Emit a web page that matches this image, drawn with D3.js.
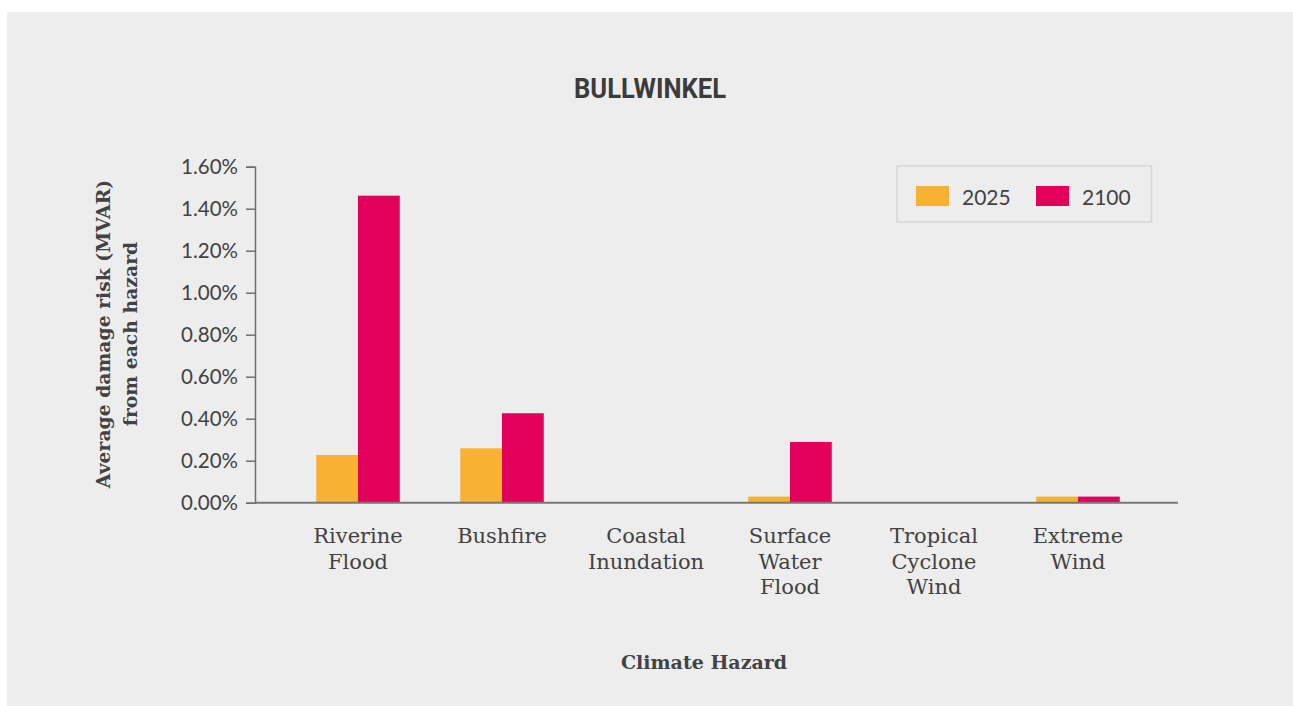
<!DOCTYPE html>
<html>
<head>
<meta charset="utf-8">
<script src="https://cdn.jsdelivr.net/npm/d3@7"></script>
<style>
  html, body { margin: 0; padding: 0; background: #ffffff; }
  svg { display: block; }
</style>
</head>
<body>
<svg id="chart" width="1293" height="706"></svg>
<script>
// ---- data ----
const categories = [
  ["Riverine", "Flood"],
  ["Bushfire"],
  ["Coastal", "Inundation"],
  ["Surface", "Water", "Flood"],
  ["Tropical", "Cyclone", "Wind"],
  ["Extreme", "Wind"]
];
const seriesNames = ["2025", "2100"];
const values2025 = [0.227, 0.259, 0, 0.029, 0, 0.029];
const values2100 = [1.462, 0.426, 0, 0.289, 0, 0.029];
const yTicks = [0, 0.2, 0.4, 0.6, 0.8, 1.0, 1.2, 1.4, 1.6];
const chartTitle = "BULLWINKEL";
const yTitleLines = ["Average damage risk (MVAR)", "from each hazard"];
const xTitle = "Climate Hazard";
const colors = ["#F8B133", "#E3005A"];

const svg = d3.select("#chart");
const W = 1293, H = 706;

// panel
svg.append("rect").attr("x", 7).attr("y", 12).attr("width", W - 7).attr("height", H - 12).attr("fill", "#ededed");

const catKeys = categories.map(c => c.join(" "));
const x = d3.scaleBand().domain(catKeys).range([286, 1150]).paddingInner(0.42).paddingOuter(0.21);
const xs = d3.scaleBand().domain(seriesNames).range([0, x.bandwidth()]);
const y = d3.scaleLinear().domain([0, 1.6]).range([502.7, 166.7]);

const axisLeft = 255, axisRight = 1178;
const textCol = "#424242";

// bars
const series = [values2025, values2100];
series.forEach((vals, si) => {
  svg.append("g").selectAll("rect").data(vals).join("rect")
    .attr("x", (d, i) => x(catKeys[i]) + xs(seriesNames[si]))
    .attr("width", xs.bandwidth())
    .attr("y", d => y(d))
    .attr("height", d => y(0) - y(d))
    .attr("fill", colors[si]);
});

// y axis
const yAxis = svg.append("g").attr("transform", `translate(${axisLeft},0)`)
  .call(d3.axisLeft(y).tickValues(yTicks).tickSize(9).tickPadding(8)
    .tickFormat(d => d3.format(".2f")(d) + "%"));
yAxis.select(".domain").attr("stroke", "#6e6e6e").attr("stroke-width", 1.5);
yAxis.selectAll(".tick line").attr("stroke", "#6e6e6e").attr("stroke-width", 1.5);
yAxis.selectAll(".tick text").attr("fill", textCol)
  .style("font-family", "Lato, 'Open Sans', sans-serif").style("font-size", "20.5px");

// x axis line
svg.append("line").attr("x1", axisLeft).attr("x2", axisRight)
  .attr("y1", y(0)).attr("y2", y(0)).attr("stroke", "#777").attr("stroke-width", 2);

// category labels
const catG = svg.append("g");
categories.forEach((lines, i) => {
  const t = catG.append("text")
    .attr("x", x(catKeys[i]) + x.bandwidth() / 2)
    .attr("y", 543)
    .attr("text-anchor", "middle")
    .attr("fill", textCol)
    .style("font-family", "'DejaVu Serif', serif")
    .style("font-size", "21px");
  lines.forEach((ln, j) => {
    t.append("tspan").attr("x", x(catKeys[i]) + x.bandwidth() / 2)
      .attr("dy", j === 0 ? 0 : 25.5).text(ln);
  });
});

// title
svg.append("text").attr("x", 650).attr("y", 98).attr("text-anchor", "middle")
  .attr("fill", "#3b3b3b")
  .attr("textLength", 152).attr("lengthAdjust", "spacingAndGlyphs")
  .style("font-family", "Roboto, sans-serif").style("font-weight", "bold").style("font-size", "27px")
  .text(chartTitle);

// y title
const yt = svg.append("text").attr("transform", "translate(110,334) rotate(-90)")
  .attr("text-anchor", "middle").attr("fill", textCol)
  .style("font-family", "'DejaVu Serif', serif").style("font-weight", "bold").style("font-size", "18.8px");
yTitleLines.forEach((ln, j) => {
  yt.append("tspan").attr("x", 0).attr("dy", j === 0 ? 0 : 26.5).text(ln);
});

// x title
svg.append("text").attr("x", 704).attr("y", 669).attr("text-anchor", "middle")
  .attr("fill", textCol)
  .style("font-family", "'DejaVu Serif', serif").style("font-weight", "bold").style("font-size", "19px")
  .text(xTitle);

// legend
const lg = svg.append("g");
lg.append("rect").attr("x", 897).attr("y", 166).attr("width", 254.5).attr("height", 56)
  .attr("fill", "none").attr("stroke", "#d6d6d6").attr("stroke-width", 1.5);
const legX = [916, 1036];
seriesNames.forEach((s, i) => {
  lg.append("rect").attr("x", legX[i]).attr("y", 186).attr("width", 33).attr("height", 20).attr("fill", colors[i]);
  lg.append("text").attr("x", legX[i] + 46).attr("y", 204.5).attr("fill", textCol)
    .style("font-family", "Lato, 'Open Sans', sans-serif").style("font-size", "21px").text(s);
});
</script>
</body>
</html>
